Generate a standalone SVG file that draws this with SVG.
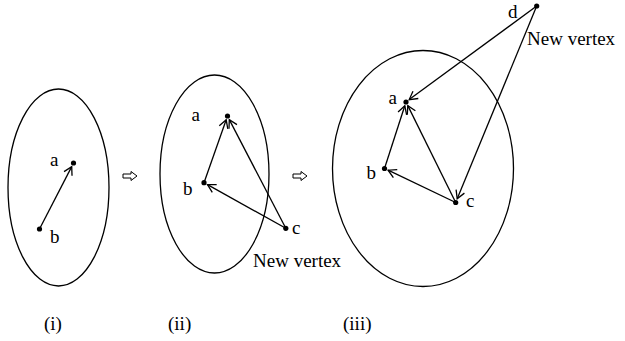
<svg xmlns="http://www.w3.org/2000/svg" width="625" height="341" viewBox="0 0 625 341">
<style>
.ell{fill:none;stroke:#000;stroke-width:1.3}
.edge{fill:none;stroke:#000;stroke-width:1.3;marker-end:url(#ah)}
.dot{fill:#000}
.t{font-family:"Liberation Serif","Times New Roman",serif;font-size:19px;fill:#000}
.imp{fill:#fff;stroke:#000;stroke-width:1}
</style>
<defs>
<marker id="ah" markerUnits="userSpaceOnUse" markerWidth="12" markerHeight="12" viewBox="-10 -6 12 12" refX="0" refY="0" orient="auto">
<path d="M-8,-4.5 L0,0 L-8,4.5" fill="none" stroke="#000" stroke-width="1.3"/>
</marker>
</defs>
<rect width="625" height="341" fill="#fff"/>
<g id="panel-i">
<ellipse class="ell" cx="58.5" cy="187.5" rx="50.5" ry="98.5"/>
</g>
<g id="panel-ii">
<ellipse class="ell" cx="214.5" cy="174" rx="54.5" ry="99"/>
</g>
<g id="panel-iii">
<ellipse class="ell" cx="423" cy="168.5" rx="90.5" ry="118"/>
</g>
<g id="connectors">
<line class="edge" x1="39.5" y1="229" x2="71.7" y2="166.6"/>
<line class="edge" x1="204" y1="182.7" x2="226.2" y2="119.8"/>
<line class="edge" x1="285.8" y1="228.3" x2="229.3" y2="119.6"/>
<line class="edge" x1="285.8" y1="228.3" x2="207.5" y2="184.6"/>
<line class="edge" x1="384.5" y1="168.5" x2="404.8" y2="105.8"/>
<line class="edge" x1="455.7" y1="202.5" x2="407.8" y2="105.6"/>
<line class="edge" x1="455.7" y1="202.5" x2="388.1" y2="170.2"/>
<line class="edge" x1="536.7" y1="6" x2="409.2" y2="99.6"/>
<line class="edge" x1="536.7" y1="6" x2="457.2" y2="198.8"/>
</g>
<g id="node-i-a"><circle class="dot" cx="73.5" cy="163" r="2.6"/><text class="t" x="50" y="166">a</text></g>
<g id="node-i-b"><circle class="dot" cx="39.5" cy="229" r="2.6"/><text class="t" x="50" y="243">b</text></g>
<g id="node-ii-a"><circle class="dot" cx="227.5" cy="116" r="2.6"/><text class="t" x="191.5" y="121">a</text></g>
<g id="node-ii-b"><circle class="dot" cx="204" cy="182.7" r="2.6"/><text class="t" x="183" y="195">b</text></g>
<g id="node-ii-c"><circle class="dot" cx="285.8" cy="228.3" r="2.6"/><text class="t" x="292" y="234">c</text><text class="t" x="253" y="267">New vertex</text></g>
<g id="node-iii-a"><circle class="dot" cx="406" cy="102" r="2.6"/><text class="t" x="388.5" y="104">a</text></g>
<g id="node-iii-b"><circle class="dot" cx="384.5" cy="168.5" r="2.6"/><text class="t" x="366.5" y="179">b</text></g>
<g id="node-iii-c"><circle class="dot" cx="455.7" cy="202.5" r="2.6"/><text class="t" x="466" y="207">c</text></g>
<g id="node-iii-d"><circle class="dot" cx="536.7" cy="6" r="2.6"/><text class="t" x="508" y="18">d</text><text class="t" x="527" y="45">New vertex</text></g>
<g id="steps">
<polygon class="imp" points="123,174 131,174 131,171.5 137,176 131,180.5 131,178 123,178"/>
<polygon class="imp" points="293,174 301,174 301,171.5 307,176 301,180.5 301,178 293,178"/>
</g>
<g id="captions">
<text class="t" x="44" y="330">(i)</text>
<text class="t" x="168" y="330">(ii)</text>
<text class="t" x="343" y="330">(iii)</text>
</g>
</svg>
